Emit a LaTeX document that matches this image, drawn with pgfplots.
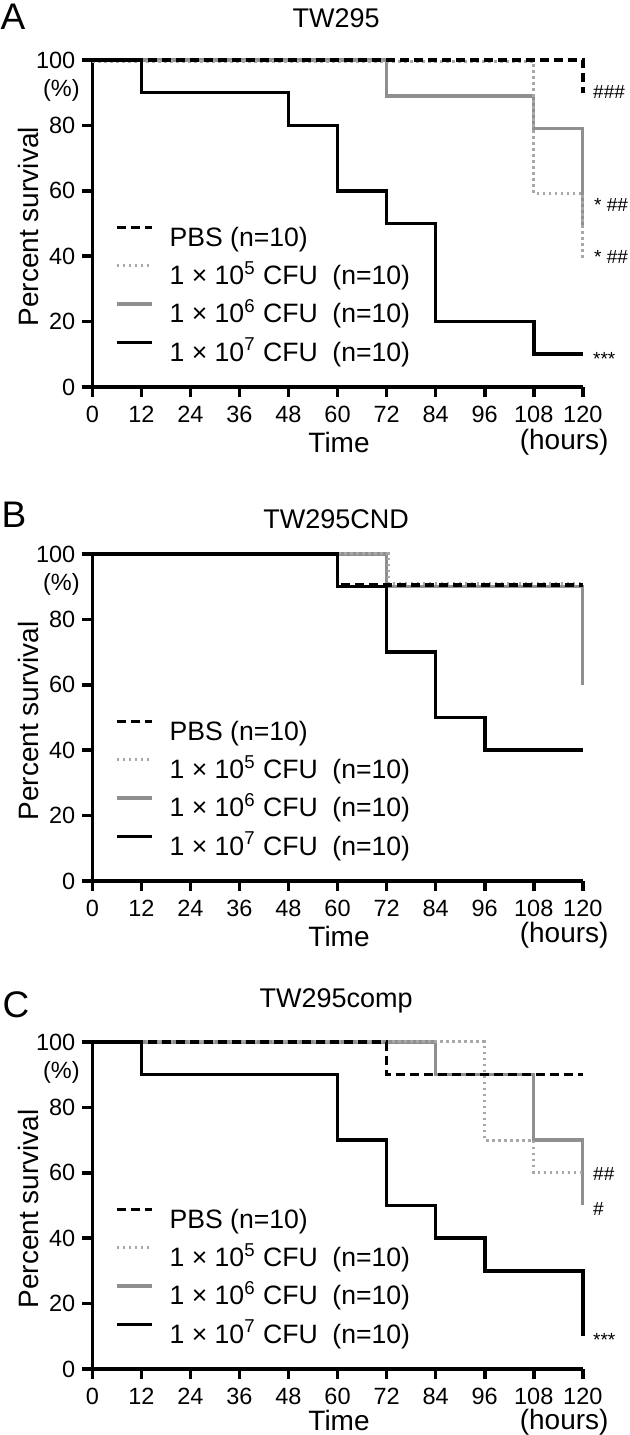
\documentclass[border=0pt]{standalone}
\usepackage{fontspec}
\setmainfont{Liberation Sans}
\usepackage{pgfplots}
\pgfplotsset{compat=1.18}
\definecolor{gdot}{HTML}{A8A8A8}
\definecolor{gsol}{HTML}{8F8F8F}
\newcommand{\tickfont}{\fontsize{11.75}{13}\selectfont}
\newcommand{\labfont}{\fontsize{14}{16}\selectfont}
\newcommand{\annfont}{\fontsize{9.5}{10}\selectfont}
\pgfplotsset{
  pbs/.style={black, line width=1.8pt, dash pattern=on 4.5pt off 2.5pt},
  e5/.style={gdot, line width=1.5pt, dash pattern=on 1.3pt off 1.7pt},
  e6/.style={gsol, line width=1.6pt},
  e7/.style={black, line width=1.8pt},
  kmaxis/.style={
    scale only axis, width=245.25pt, height=163.5pt,
    anchor=south west,
    xmin=0, xmax=120, ymin=0, ymax=100,
    axis x line*=bottom, axis y line*=left,
    axis line style={line width=1.8pt, -},
    xtick={0,12,...,120}, ytick={0,20,...,100},
    tick align=outside, major tick length=5pt,
    every tick/.style={line width=1.8pt, black},
    tick label style={font=\tickfont},
    xticklabel style={yshift=-1pt},
    /pgf/number format/assume math mode=true,
    clip=false,
    xlabel={Time}, ylabel={Percent survival},
    label style={font=\labfont},
    xlabel style={at={(axis description cs:0.503,-0.171)}, anchor=center},
    ylabel style={at={(axis description cs:-0.1305,0.49)}, anchor=center},
    title style={font=\fontsize{13.5}{15}\selectfont, at={(axis description cs:0.497,1)}, anchor=center},
    legend cell align=left,
    legend style={draw=none, fill=none, inner sep=0pt, outer sep=0pt,
      at={(axis description cs:0.0463,0.459)}, anchor=north west, yshift=9.57pt,
      column sep=8pt, row sep=0pt,
      nodes={inner sep=0pt, text height=14.33pt, text depth=4.81pt},
      font=\fontsize{13.3}{16}\selectfont},
    legend image code/.code={\draw[#1] (0pt,4.7pt) -- (17.5pt,4.7pt);},
  }
}
\begin{document}
\begin{tikzpicture}
\useasboundingbox (0,0) rectangle (314.5pt,717.5pt);
% ---------------- A ----------------
\begin{axis}[kmaxis, at={(46.15pt,524pt)}, title={TW295}, title style={yshift=15pt}]
\addlegendimage{pbs}\addlegendentry{PBS (n=10)}
\addlegendimage{e5}\addlegendentry{1 × 10\textsuperscript{5} CFU\ \ (n=10)}
\addlegendimage{e6}\addlegendentry{1 × 10\textsuperscript{6} CFU\ \ (n=10)}
\addlegendimage{e7}\addlegendentry{1 × 10\textsuperscript{7} CFU\ \ (n=10)}
\addplot[e6, const plot, forget plot] coordinates {(0,100) (72,89) (108,79) (120,49)};
\addplot[e5, const plot, forget plot] coordinates {(0,99.5) (108,59.3) (120,39.5)};
\addplot[e7, const plot, forget plot] coordinates {(0,100) (12,90) (48,80) (60,60) (72,50) (84,20) (108,10) (120,10)};
\addplot[pbs, const plot, forget plot] coordinates {(0,100) (120,90)};
\node[anchor=east, font=\tickfont, inner sep=0pt, xshift=-6.15pt] at (axis cs:0,90.8) {(\%)};
\node[font=\labfont, inner sep=0pt] at (axis description cs:0.962,-0.169) {(hours)};
\node[anchor=west, font=\annfont, inner sep=0pt, xshift=5pt] at (axis cs:120,90.2) {\#\#\#};
\node[anchor=west, font=\annfont, inner sep=0pt, xshift=5.5pt] at (axis cs:120,55.7) {* \#\#};
\node[anchor=west, font=\annfont, inner sep=0pt, xshift=5.5pt] at (axis cs:120,39.8) {* \#\#};
\node[anchor=west, font=\annfont, inner sep=0pt, xshift=5pt] at (axis cs:120,8.5) {***};
\end{axis}
% ---------------- B ----------------
\begin{axis}[kmaxis, at={(46.15pt,277pt)}, title={TW295CND}, title style={yshift=11.5pt}]
\addlegendimage{pbs}\addlegendentry{PBS (n=10)}
\addlegendimage{e5}\addlegendentry{1 × 10\textsuperscript{5} CFU\ \ (n=10)}
\addlegendimage{e6}\addlegendentry{1 × 10\textsuperscript{6} CFU\ \ (n=10)}
\addlegendimage{e7}\addlegendentry{1 × 10\textsuperscript{7} CFU\ \ (n=10)}
\addplot[e6, const plot, forget plot] coordinates {(0,100) (72,90) (120,60)};
\addplot[e5, const plot, forget plot] coordinates {(0,100) (72.5,91) (120,91)};
\addplot[e7, const plot, forget plot] coordinates {(0,100) (60,90) (72,70) (84,50) (96,40) (120,40)};
\addplot[pbs, const plot, forget plot] coordinates {(0,100) (60,90.5) (120,90.5)};
\node[anchor=east, font=\tickfont, inner sep=0pt, xshift=-6.15pt] at (axis cs:0,90.8) {(\%)};
\node[font=\labfont, inner sep=0pt] at (axis description cs:0.962,-0.165) {(hours)};
\end{axis}
% ---------------- C ----------------
\begin{axis}[kmaxis, at={(46.15pt,33pt)}, title={TW295comp}, title style={yshift=14.75pt},
  xlabel style={at={(axis description cs:0.503,-0.158)}}]
\addlegendimage{pbs}\addlegendentry{PBS (n=10)}
\addlegendimage{e5}\addlegendentry{1 × 10\textsuperscript{5} CFU\ \ (n=10)}
\addlegendimage{e6}\addlegendentry{1 × 10\textsuperscript{6} CFU\ \ (n=10)}
\addlegendimage{e7}\addlegendentry{1 × 10\textsuperscript{7} CFU\ \ (n=10)}
\addplot[e6, const plot, forget plot] coordinates {(0,100) (84,90) (108,70) (120,50)};
\addplot[e5, const plot, forget plot] coordinates {(0,100) (96,70) (108,60) (120,60)};
\addplot[e7, const plot, forget plot] coordinates {(0,100) (12,90) (60,70) (72,50) (84,40) (96,30) (120,10)};
\addplot[pbs, const plot, forget plot] coordinates {(0,100) (72,90) (120,90)};
\node[anchor=east, font=\tickfont, inner sep=0pt, xshift=-6.15pt] at (axis cs:0,90.8) {(\%)};
\node[font=\labfont, inner sep=0pt] at (axis description cs:0.962,-0.163) {(hours)};
\node[anchor=west, font=\annfont, inner sep=0pt, xshift=5pt] at (axis cs:120,59.5) {\#\#};
\node[anchor=west, font=\annfont, inner sep=0pt, xshift=5pt] at (axis cs:120,48.8) {\#};
\node[anchor=west, font=\annfont, inner sep=0pt, xshift=5pt] at (axis cs:120,8.8) {***};
\end{axis}
\node[font=\fontsize{18.5}{20}\selectfont, inner sep=0pt] at (6.5pt,709pt) {A};
\node[font=\fontsize{18.5}{20}\selectfont, inner sep=0pt] at (7pt,460pt) {B};
\node[font=\fontsize{18.5}{20}\selectfont, inner sep=0pt] at (8pt,215pt) {C};
\end{tikzpicture}
\end{document}
